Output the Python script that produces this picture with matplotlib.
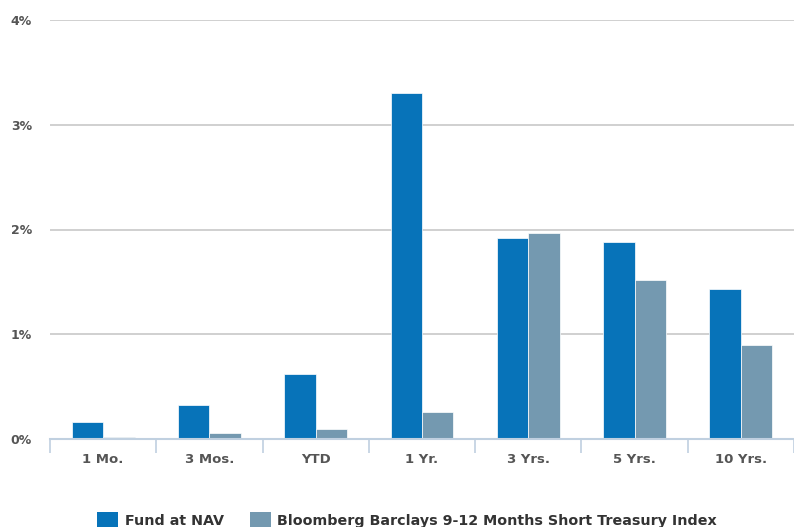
import matplotlib
matplotlib.use("Agg")
import matplotlib.pyplot as plt
import numpy as np
from matplotlib.patches import Patch

categories = ["1 Mo.", "3 Mos.", "YTD", "1 Yr.", "3 Yrs.", "5 Yrs.", "10 Yrs."]
fund_nav = [0.16, 0.32, 0.62, 3.30, 1.92, 1.88, 1.43]
index_vals = [0.02, 0.06, 0.10, 0.26, 1.97, 1.52, 0.90]
series_names = ["Fund at NAV", "Bloomberg Barclays 9-12 Months Short Treasury Index"]
y_ticks = [0, 1, 2, 3, 4]
y_tick_labels = ["0%", "1%", "2%", "3%", "4%"]

W, H = 794, 527
fig = plt.figure(figsize=(W / 100, H / 100), dpi=100)
ax = fig.add_axes([50 / W, (H - 439) / H, (W - 50) / W, (439 - 20) / H])

fund_color = "#0773b9"
index_color = "#7499b0"
text_color = "#555555"

x = np.arange(len(categories))
bw = 0.296
ax.bar(x - bw / 2, fund_nav, width=bw, color=fund_color, edgecolor="white", linewidth=0.5, zorder=3)
ax.bar(x + bw / 2, index_vals, width=bw, color=index_color, edgecolor="white", linewidth=0.5, zorder=3)

ax.set_xlim(-0.5, len(categories) - 0.5)
ax.set_ylim(0, 4)
ax.set_yticks(y_ticks)
ax.set_yticklabels(y_tick_labels)
ax.yaxis.grid(True, color="#c8c8c8", linewidth=1.2, zorder=0)
ax.set_axisbelow(True)

for s in ["top", "right", "left"]:
    ax.spines[s].set_visible(False)
ax.spines["bottom"].set_color("#c0d0e0")
ax.spines["bottom"].set_linewidth(1.5)
ax.spines["bottom"].set_zorder(4)

ax.set_xticks(x)
ax.set_xticklabels(categories)
ax.set_xticks(np.arange(-0.5, len(categories) + 0.5, 1), minor=True)
ax.tick_params(axis="x", which="major", length=0, pad=10, labelsize=9.5, labelcolor=text_color)
ax.tick_params(axis="x", which="minor", length=10, width=1.2, color="#c0d0e0")
ax.tick_params(axis="y", length=0, pad=13, labelsize=9, labelcolor=text_color)
for lbl in ax.get_xticklabels() + ax.get_yticklabels():
    lbl.set_fontweight("bold")

handles = [Patch(facecolor=fund_color, edgecolor="none"), Patch(facecolor=index_color, edgecolor="none")]
leg = fig.legend(handles, series_names, loc="center", bbox_to_anchor=(407 / W, 1 - 520 / H),
                 ncol=2, frameon=False, handlelength=1.5, handleheight=1.4, handletextpad=0.45,
                 columnspacing=1.8, prop={"weight": "bold", "size": 10.3})
for t in leg.get_texts():
    t.set_color("#333333")

fig.savefig("out.png", dpi=100)
